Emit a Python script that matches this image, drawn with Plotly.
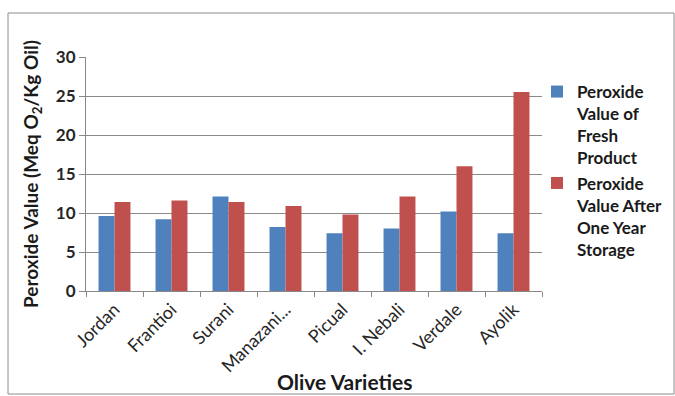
import plotly.graph_objects as go

varieties = ["Jordan", "Frantioi", "Surani", "Manazani...", "Picual", "I. Nebali", "Verdale", "Ayolik"]
fresh = [9.6, 9.2, 12.1, 8.2, 7.4, 8.0, 10.2, 7.4]
stored = [11.4, 11.6, 11.4, 10.9, 9.8, 12.1, 16.0, 25.5]
y_ticks = [0, 5, 10, 15, 20, 25, 30]

FONT = "Lato"
W, H = 675, 396
L, R, T, B = 86, 133, 57, 105
pw, ph = W - L - R, H - T - B

fig = go.Figure()
fig.add_trace(go.Bar(
    x=varieties, y=fresh, name="Peroxide<br>Value of<br>Fresh<br>Product",
    marker=dict(color="#4F81BD", line=dict(width=0)),
))
fig.add_trace(go.Bar(
    x=varieties, y=stored, name="Peroxide<br>Value After<br>One Year<br>Storage",
    marker=dict(color="#C0504D", line=dict(width=0)),
))

# outer chart frame
fig.add_shape(
    type="rect", xref="paper", yref="paper",
    x0=(8 - L) / pw, x1=(W - 1 - L) / pw,
    y0=(H - B - (H - 2)) / ph, y1=(H - B - 13) / ph,
    line=dict(color="#8c8c8c", width=1), fillcolor="rgba(0,0,0,0)", layer="below",
)

# x-axis title, placed a little right of the plot centre
fig.add_annotation(
    text="Olive Varieties", xref="paper", yref="paper",
    x=(345 - L) / pw, y=(H - B - 381) / ph, xanchor="center", yanchor="middle",
    showarrow=False, font=dict(size=21, family=FONT, weight="bold", color="#1a1a1a"),
)

fig.update_layout(
    width=W, height=H,
    margin=dict(l=L, r=R, t=T, b=B, autoexpand=False),
    paper_bgcolor="white", plot_bgcolor="white",
    barmode="group", bargap=0.44, bargroupgap=0,
    font=dict(family=FONT, color="#262626"),
    legend=dict(
        x=(537 - L) / pw, y=(H - B - 74) / ph, xanchor="left", yanchor="top",
        font=dict(size=17, family=FONT, color="#1a1a1a", weight="bold"),
        tracegroupgap=0, itemwidth=30, valign="top", bgcolor="rgba(0,0,0,0)",
    ),
    xaxis=dict(
        tickangle=-45, tickfont=dict(size=18, family=FONT, color="#262626"),
        showline=True, linecolor="#888888", linewidth=1,
        ticks="outside", tickson="boundaries", ticklen=5, tickcolor="#888888",
        showgrid=False,
    ),
    yaxis=dict(
        title=dict(text="Peroxide Value (Meq O<sub>2</sub>/Kg Oil)", font=dict(size=19, family=FONT, weight="bold", color="#1a1a1a"), standoff=12),
        range=[0, 30], tickvals=y_ticks,
        tickfont=dict(size=17, family=FONT, weight="bold", color="#262626"),
        showline=True, linecolor="#888888", linewidth=1,
        ticks="outside", ticklen=6, tickcolor="#888888",
        showgrid=True, gridcolor="#8a8a8a", gridwidth=1,
        zeroline=False,
    ),
)

fig.write_html("out.html")
